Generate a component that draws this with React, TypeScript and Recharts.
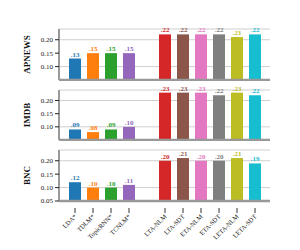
import React from 'react';
import { BarChart, Bar, XAxis, YAxis, CartesianGrid } from 'recharts';

const baselineModels = ['LDA*', 'TDLM*', 'TopicRNN*', 'TCNLM*'];
const proposedModels = ['LTA-NLM', 'LTA-SDT', 'ETA-NLM', 'ETA-SDT', 'LETA-NLM', 'LETA-SDT'];

const apnewsBaseline = [0.13, 0.15, 0.15, 0.15];
const apnewsProposed = [0.22, 0.22, 0.22, 0.22, 0.21, 0.22];
const imdbBaseline = [0.09, 0.08, 0.09, 0.10];
const imdbProposed = [0.23, 0.23, 0.23, 0.22, 0.23, 0.22];
const bncBaseline = [0.12, 0.10, 0.10, 0.11];
const bncProposed = [0.20, 0.21, 0.20, 0.20, 0.21, 0.19];

const yTicks = [0.05, 0.1, 0.15, 0.2];

const colors = [
  '#1f77b4', '#ff7f0e', '#2ca02c', '#9467bd',
  '#d62728', '#8c564b', '#e377c2', '#7f7f7f', '#bcbd22', '#17becf',
];

const FONT = '"Liberation Serif", "DejaVu Serif", serif';

// baselines, one empty slot, then our models
const buildRows = (base: number[], prop: number[]) => [
  ...baselineModels.map((name, i) => ({ name, value: base[i], c: i })),
  { name: '', value: null, c: -1 },
  ...proposedModels.map((name, i) => ({ name, value: prop[i], c: i + 4 })),
];

const fmt = (v: number) => v.toFixed(2).replace(/^0/, '');

// bar + its value label, coloured from the row
const BarShape = (p: any) => {
  const row = p.payload;
  if (!row || row.value == null || row.c < 0) return null;
  const col = colors[row.c];
  return (
    <g>
      <rect x={p.x} y={p.y} width={p.width} height={p.height} fill={col} />
      <text
        x={p.x + p.width / 2}
        y={p.y - 2}
        textAnchor="middle"
        fontSize={7}
        fontWeight="bold"
        fontFamily={FONT}
        fill={col}
      >
        {fmt(row.value)}
      </text>
    </g>
  );
};

interface PanelProps {
  title: string;
  base: number[];
  prop: number[];
  top: number;
  height: number;
  marginTop: number;
  showX?: boolean;
}

const Panel: React.FC<PanelProps> = ({ title, base, prop, top, height, marginTop, showX }) => {
  const rows = buildRows(base, prop);

  const renderXTick = (p: any) => {
    const label = p.payload.value;
    if (!label) return null;
    return (
      <g>
        <line x1={p.x} y1={p.y - 1} x2={p.x} y2={p.y + 4} stroke="#333" strokeWidth={1} />
        <text
          x={p.x + 2}
          y={p.y + 8}
          textAnchor="end"
          fontSize={6.5}
          fontFamily={FONT}
          fill="#222"
          transform={`rotate(-45, ${p.x + 2}, ${p.y + 8})`}
        >
          {label}
        </text>
      </g>
    );
  };

  return (
    <div style={{ position: 'absolute', left: 0, top, width: 300, height }}>
      <BarChart
        width={300}
        height={height}
        data={rows}
        margin={{ top: marginTop, right: 30, left: 0, bottom: 0 }}
        barCategoryGap="33%"
        style={{ overflow: 'visible' }}
      >
        <CartesianGrid horizontal vertical={false} stroke="#cfcfcf" strokeWidth={1} />
        <XAxis
          dataKey="name"
          height={showX ? 50 : 1}
          padding={{ left: 7, right: 6 }}
          axisLine={{ stroke: '#999', strokeWidth: 2.5 }}
          tickLine={false}
          interval={0}
          tick={showX ? renderXTick : false}
        />
        <YAxis
          width={59}
          domain={[0.05, 0.24]}
          ticks={yTicks}
          axisLine={{ stroke: '#999', strokeWidth: 2 }}
          tickLine={{ stroke: '#222', strokeWidth: 1 }}
          tickSize={4}
          tickFormatter={(v: number) => v.toFixed(2)}
          tick={{ fontSize: 7, fontFamily: FONT, fill: '#222' }}
          label={{
            content: (lp: any) => {
              const vb = lp.viewBox || { x: 0, y: 0, height: 50 };
              const cx = 27;
              const cy = vb.y + vb.height / 2;
              return (
                <text
                  x={cx}
                  y={cy}
                  textAnchor="middle"
                  dominantBaseline="central"
                  fontSize={9}
                  fontWeight="bold"
                  fontFamily={FONT}
                  fill="#111"
                  transform={`rotate(-90, ${cx}, ${cy})`}
                >
                  {title}
                </text>
              );
            },
          }}
        />
        <Bar dataKey="value" barSize={12} shape={BarShape} isAnimationActive={false} />
      </BarChart>
    </div>
  );
};

export default function App() {
  return (
    <div style={{ position: 'absolute', left: 0, top: 0, width: 300, height: 250, background: '#fff' }}>
      <Panel title="APNEWS" base={apnewsBaseline} prop={apnewsProposed} top={0} height={81} marginTop={29} />
      <Panel title="IMDB" base={imdbBaseline} prop={imdbProposed} top={81} height={60} marginTop={9} />
      <Panel title="BNC" base={bncBaseline} prop={bncProposed} top={141} height={110} marginTop={9} showX />
    </div>
  );
}
